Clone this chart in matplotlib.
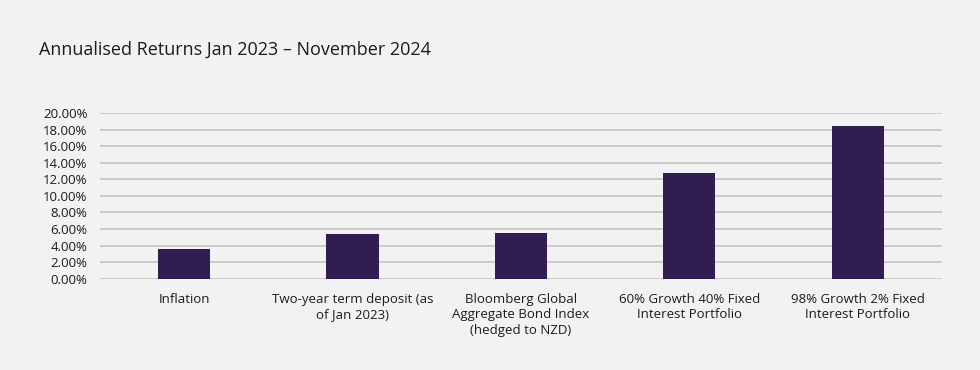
import numpy as np
import matplotlib.pyplot as plt
from matplotlib.ticker import PercentFormatter

plt.rcParams['font.family'] = ['Open Sans', 'DejaVu Sans']

categories = ['Inflation',
              'Two-year term deposit (as\nof Jan 2023)',
              'Bloomberg Global\nAggregate Bond Index\n(hedged to NZD)',
              '60% Growth 40% Fixed\nInterest Portfolio',
              '98% Growth 2% Fixed\nInterest Portfolio']
returns = [0.0362, 0.054, 0.055, 0.128, 0.1848]
yticks = np.arange(0, 0.2001, 0.02)

bg = '#f2f2f2'
txt = '#1c1c1c'
fig = plt.figure(figsize=(9.8, 3.7), dpi=100, facecolor=bg)
ax = fig.add_axes([0.102, 0.2468, 0.859, 0.4478], facecolor=bg)

x = np.arange(len(categories))
ax.bar(x, returns, width=0.31, color='#321d52', zorder=3)

ax.set_xlim(-0.5, len(categories) - 0.5)
ax.set_ylim(0, 0.20)
ax.set_yticks(yticks)
ax.yaxis.set_major_formatter(PercentFormatter(1.0, decimals=2))
ax.set_xticks(x)
ax.set_xticklabels(categories, fontsize=9.5, color=txt, linespacing=1.25)
ax.tick_params(axis='y', labelsize=9.5, labelcolor=txt, length=0, pad=9)
ax.tick_params(axis='x', length=0, pad=10)
ax.yaxis.grid(True, color='#c4c4c4', linewidth=1.2, zorder=0)
for s in ax.spines.values():
    s.set_visible(False)

fig.text(0.040, 0.865, 'Annualised Returns Jan 2023 \u2013 November 2024',
         fontsize=13, color=txt, va='center', ha='left')

fig.savefig('out.png', dpi=100, facecolor=bg)
